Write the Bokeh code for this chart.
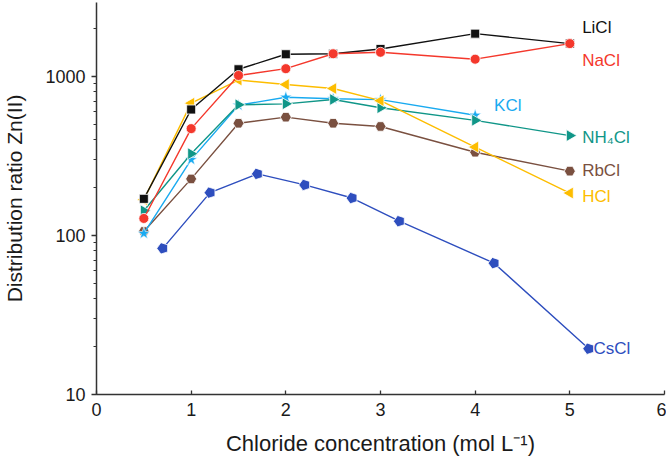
import math
from bokeh.plotting import figure
from bokeh.models import Range1d, LogTicker, FixedTicker, PrintfTickFormatter
from bokeh.core.properties import value
from bokeh.embed import file_html
from bokeh.resources import INLINE

# ---- data ----
x_std = [0.5, 1.0, 1.5, 2.0, 2.5, 3.0, 4.0, 5.0]
licl = [170, 620, 1110, 1380, 1390, 1490, 1860, 1610]
nacl = [128, 470, 1015, 1120, 1390, 1420, 1285, 1610]
hcl = [168, 680, 950, 890, 840, 705, 360, 185]
x_kcl = [0.5, 1.0, 1.5, 2.0, 2.5, 3.0, 4.0]
kcl = [103, 300, 660, 740, 725, 715, 570]
nh4cl = [143, 327, 664, 673, 717, 636, 530, 425]
rbcl = [106, 227, 508, 555, 508, 485, 334, 254]
x_cs = [0.7, 1.2, 1.7, 2.2, 2.7, 3.2, 4.2, 5.2]
cscl = [83, 186, 244, 208, 172, 123, 67, 19.4]

x_ticks = [0, 1, 2, 3, 4, 5, 6]

names = ["LiCl", "NaCl", "KCl", "NH\u2084Cl", "RbCl", "HCl", "CsCl"]
label_x = [5.13, 5.13, 4.2, 5.13, 5.13, 5.13, 5.25]
label_y = [2030, 1260, 657, 415, 256, 176, 19.5]

C_LI = "#111111"
C_NA = "#F4382C"
C_H = "#FDBD00"
C_K = "#19AAF0"
C_NH = "#109688"
C_RB = "#7A5040"
C_CS = "#2E4EBE"
label_colors = [C_LI, C_NA, C_K, C_NH, C_RB, C_H, C_CS]

FONT = "Liberation Sans"

p = figure(width=666, height=460, output_backend="svg", toolbar_location=None,
           y_axis_type="log",
           x_range=Range1d(0, 6), y_range=Range1d(10, 2920),
           min_border_left=95, min_border_right=2, min_border_top=2,
           min_border_bottom=66)
p.outline_line_color = None
p.xgrid.visible = False
p.ygrid.visible = False
p.background_fill_color = "white"
p.border_fill_color = "white"

# axes
p.xaxis.ticker = FixedTicker(ticks=x_ticks)
p.xaxis.major_tick_in = 4
p.xaxis.major_tick_out = 0
p.xaxis.axis_label = "Chloride concentration (mol L\u207B\u00B9)"
p.yaxis.ticker = LogTicker(num_minor_ticks=10)
p.yaxis.formatter = PrintfTickFormatter(format="%d")
p.yaxis.major_tick_in = 0
p.yaxis.major_tick_out = 5
p.yaxis.minor_tick_in = 0
p.yaxis.minor_tick_out = 3
p.yaxis.axis_label = "Distribution ratio Zn(II)"
for ax in (p.xaxis[0], p.yaxis[0]):
    ax.axis_line_color = "#333333"
    ax.axis_line_width = 1.5
    ax.major_tick_line_color = "#333333"
    ax.major_tick_line_width = 1.3
    ax.major_label_text_font = FONT
    ax.major_label_text_font_size = "18px"
    ax.major_label_text_color = "#1a1a1a"
    ax.axis_label_text_font = FONT
    ax.axis_label_text_font_style = "normal"
    ax.axis_label_text_color = "#1a1a1a"
p.xaxis.minor_tick_line_color = None
p.yaxis.minor_tick_line_color = "#333333"
p.xaxis.axis_label_text_font_size = "22px"
p.yaxis.axis_label_text_font_size = "21px"
p.xaxis.major_label_standoff = 8
p.xaxis.axis_label_standoff = 12
p.yaxis.major_label_standoff = 6
p.yaxis.axis_label_standoff = 16

LW = 1.4
OUT = "white"

# CsCl (pentagons)
p.line(x_cs, cscl, line_color=C_CS, line_width=LW)
p.ngon(x=x_cs, y=cscl, radius=6, radius_units="screen", n=5, angle=math.pi / 2,
       fill_color=C_CS, line_color=OUT, line_width=0.8)

# RbCl (hexagons)
p.line(x_std, rbcl, line_color=C_RB, line_width=LW)
p.scatter(x_std, rbcl, marker="hex", size=11, fill_color=C_RB, line_color=OUT, line_width=0.8)

# KCl (stars)
p.line(x_kcl, kcl, line_color=C_K, line_width=LW)
p.scatter(x_kcl, kcl, marker="star", size=13, fill_color=C_K, line_color=OUT, line_width=0.6)

# NH4Cl (right triangles)
p.line(x_std, nh4cl, line_color=C_NH, line_width=LW)
p.scatter(x_std, nh4cl, marker="triangle", angle=-math.pi / 2, size=12,
          fill_color=C_NH, line_color=OUT, line_width=0.8)

# HCl (left triangles)
p.line(x_std, hcl, line_color=C_H, line_width=LW)
p.scatter(x_std, hcl, marker="triangle", angle=math.pi / 2, size=12,
          fill_color=C_H, line_color=OUT, line_width=0.8)

# LiCl (squares)
p.line(x_std, licl, line_color=C_LI, line_width=LW)
p.scatter(x_std, licl, marker="square", size=9, fill_color=C_LI, line_color=OUT, line_width=0.8)

# NaCl (circles)
p.line(x_std, nacl, line_color=C_NA, line_width=LW)
p.scatter(x_std, nacl, marker="circle", size=10, fill_color=C_NA, line_color=OUT, line_width=0.8)

# series labels
p.text(x=label_x, y=label_y, text=names, text_color=label_colors,
       text_font=value(FONT), text_font_size="17px",
       text_align="left", text_baseline="middle")

open("out.html", "w").write(file_html(p, INLINE))
